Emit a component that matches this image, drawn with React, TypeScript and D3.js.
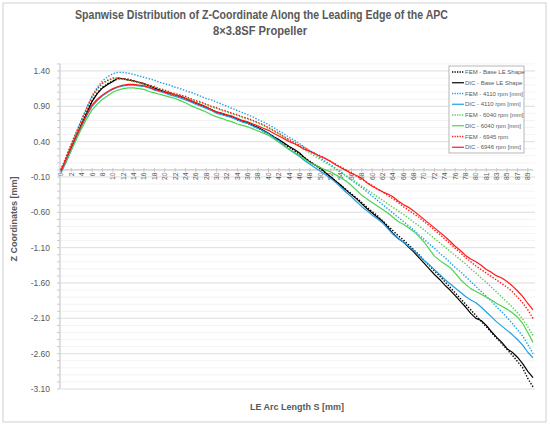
import React from "react";
import * as d3 from "d3";

// ---------- DATA ----------
const arcLength: number[] = [
  0, 1, 2, 3, 4, 5, 6, 7, 8, 9, 10, 11, 12, 13, 14, 15, 16, 17, 18, 19,
  20, 21, 22, 23, 24, 25, 26, 27, 28, 29, 30, 31, 32, 33, 34, 35, 36, 37, 38, 39,
  40, 41, 42, 43, 44, 45, 46, 47, 48, 49, 50, 51, 52, 53, 54, 55, 56, 57, 58, 59,
  60, 61, 62, 63, 64, 65, 66, 67, 68, 69, 70, 71, 72, 73, 74, 75, 76, 77, 78, 79,
  80, 80, 81, 82, 83, 84, 85, 86, 87, 88, 89, 90,
];

const femBase: number[] = [
  0.0, 0.16, 0.33, 0.5, 0.67, 0.83, 0.98, 1.09, 1.17, 1.22,
  1.26, 1.29, 1.29, 1.28, 1.26, 1.24, 1.21, 1.19, 1.16, 1.13,
  1.1, 1.08, 1.05, 1.03, 1.0, 0.97, 0.94, 0.91, 0.88, 0.85,
  0.82, 0.79, 0.77, 0.74, 0.71, 0.68, 0.66, 0.62, 0.59, 0.55,
  0.51, 0.47, 0.42, 0.37, 0.32, 0.27, 0.22, 0.17, 0.12, 0.07,
  0.01, -0.04, -0.1, -0.16, -0.22, -0.28, -0.34, -0.4, -0.46, -0.53,
  -0.59, -0.65, -0.72, -0.79, -0.86, -0.93, -0.99, -1.06, -1.13, -1.2,
  -1.28, -1.35, -1.43, -1.5, -1.58, -1.66, -1.74, -1.82, -1.9, -1.98,
  -2.06, -2.14, -2.22, -2.3, -2.38, -2.46, -2.54, -2.62, -2.71, -2.8,
  -2.95, -3.07,
];

const dicBase: number[] = [
  0.0, 0.14, 0.31, 0.48, 0.65, 0.81, 0.97, 1.08, 1.16, 1.21,
  1.25, 1.3, 1.29, 1.27, 1.26, 1.24, 1.22, 1.19, 1.16, 1.13,
  1.11, 1.09, 1.06, 1.04, 1.01, 0.98, 0.95, 0.92, 0.89, 0.85,
  0.82, 0.8, 0.77, 0.75, 0.72, 0.69, 0.67, 0.63, 0.6, 0.56,
  0.52, 0.47, 0.43, 0.38, 0.33, 0.29, 0.24, 0.17, 0.11, 0.07,
  0.03, -0.04, -0.1, -0.16, -0.22, -0.29, -0.35, -0.41, -0.48, -0.55,
  -0.61, -0.67, -0.73, -0.81, -0.9, -0.97, -1.02, -1.09, -1.16, -1.24,
  -1.32, -1.4, -1.48, -1.55, -1.63, -1.7, -1.78, -1.86, -1.94, -2.03,
  -2.1, -2.13, -2.2, -2.29, -2.37, -2.44, -2.53, -2.58, -2.65, -2.74,
  -2.85, -2.94,
];

const fem4110: number[] = [
  -0.03, 0.17, 0.36, 0.54, 0.72, 0.89, 1.05, 1.17, 1.26, 1.32,
  1.36, 1.38, 1.38, 1.37, 1.35, 1.33, 1.31, 1.29, 1.27, 1.24,
  1.22, 1.2, 1.17, 1.15, 1.12, 1.1, 1.07, 1.04, 1.01, 0.99,
  0.96, 0.93, 0.9, 0.87, 0.84, 0.81, 0.78, 0.75, 0.71, 0.68,
  0.64, 0.6, 0.55, 0.51, 0.46, 0.42, 0.37, 0.32, 0.27, 0.22,
  0.17, 0.12, 0.07, 0.02, -0.03, -0.09, -0.14, -0.2, -0.25, -0.31,
  -0.37, -0.43, -0.49, -0.55, -0.61, -0.67, -0.73, -0.79, -0.85, -0.92,
  -0.98, -1.05, -1.11, -1.18, -1.24, -1.31, -1.38, -1.44, -1.51, -1.58,
  -1.65, -1.72, -1.79, -1.86, -1.94, -2.01, -2.09, -2.17, -2.26, -2.35,
  -2.47, -2.6,
];

const dic4110: number[] = [
  -0.04, 0.11, 0.28, 0.45, 0.62, 0.77, 0.9, 0.98, 1.05, 1.1,
  1.14, 1.17, 1.19, 1.2, 1.2, 1.19, 1.18, 1.16, 1.13, 1.11,
  1.09, 1.06, 1.04, 1.02, 0.99, 0.96, 0.93, 0.9, 0.87, 0.84,
  0.8, 0.78, 0.76, 0.74, 0.71, 0.68, 0.66, 0.62, 0.59, 0.55,
  0.51, 0.46, 0.41, 0.35, 0.29, 0.24, 0.19, 0.13, 0.08, 0.03,
  -0.02, -0.07, -0.12, -0.18, -0.25, -0.32, -0.38, -0.45, -0.52, -0.58,
  -0.64, -0.69, -0.75, -0.83, -0.91, -0.97, -1.02, -1.08, -1.14, -1.21,
  -1.28, -1.34, -1.41, -1.48, -1.55, -1.61, -1.67, -1.73, -1.79, -1.84,
  -1.88, -1.94, -2.01, -2.08, -2.15, -2.21, -2.27, -2.33, -2.4, -2.48,
  -2.58, -2.66,
];

const fem6040: number[] = [
  0.0, 0.18, 0.36, 0.53, 0.7, 0.87, 1.03, 1.14, 1.22, 1.26,
  1.29, 1.29, 1.28, 1.27, 1.25, 1.23, 1.21, 1.19, 1.17, 1.14,
  1.12, 1.09, 1.07, 1.05, 1.03, 1.0, 0.97, 0.95, 0.92, 0.89,
  0.87, 0.84, 0.82, 0.79, 0.77, 0.74, 0.72, 0.69, 0.66, 0.63,
  0.59, 0.55, 0.51, 0.46, 0.42, 0.37, 0.33, 0.28, 0.24, 0.19,
  0.15, 0.1, 0.06, 0.01, -0.04, -0.08, -0.13, -0.18, -0.23, -0.28,
  -0.33, -0.38, -0.43, -0.48, -0.53, -0.58, -0.63, -0.68, -0.74, -0.79,
  -0.85, -0.91, -0.97, -1.03, -1.09, -1.15, -1.21, -1.27, -1.33, -1.4,
  -1.46, -1.53, -1.59, -1.66, -1.73, -1.8, -1.87, -1.94, -2.02, -2.11,
  -2.22, -2.34,
];

const dic6040: number[] = [
  -0.02, 0.13, 0.28, 0.44, 0.59, 0.73, 0.85, 0.93, 1.0, 1.05,
  1.1, 1.13, 1.15, 1.16, 1.16, 1.15, 1.14, 1.11, 1.09, 1.07,
  1.05, 1.03, 1.01, 0.98, 0.95, 0.91, 0.88, 0.85, 0.82, 0.78,
  0.75, 0.73, 0.7, 0.68, 0.65, 0.63, 0.61, 0.58, 0.55, 0.52,
  0.49, 0.44, 0.39, 0.34, 0.29, 0.25, 0.2, 0.15, 0.1, 0.07,
  0.03, 0.0, -0.03, -0.07, -0.11, -0.16, -0.22, -0.29, -0.36, -0.41,
  -0.46, -0.51, -0.56, -0.61, -0.67, -0.73, -0.77, -0.82, -0.87, -0.94,
  -1.02, -1.12, -1.22, -1.28, -1.33, -1.38, -1.46, -1.55, -1.62, -1.68,
  -1.72, -1.76, -1.8, -1.84, -1.89, -1.93, -1.97, -2.02, -2.08, -2.17,
  -2.3, -2.44,
];

const fem6945: number[] = [
  0.0, 0.19, 0.37, 0.54, 0.71, 0.88, 1.04, 1.15, 1.23, 1.27,
  1.3, 1.3, 1.29, 1.28, 1.26, 1.24, 1.22, 1.2, 1.18, 1.15,
  1.13, 1.1, 1.08, 1.06, 1.04, 1.01, 0.98, 0.96, 0.93, 0.9,
  0.88, 0.85, 0.83, 0.8, 0.78, 0.75, 0.73, 0.7, 0.67, 0.64,
  0.6, 0.56, 0.52, 0.47, 0.43, 0.39, 0.35, 0.31, 0.27, 0.23,
  0.2, 0.16, 0.12, 0.08, 0.04, 0.0, -0.04, -0.09, -0.13, -0.18,
  -0.22, -0.27, -0.31, -0.36, -0.41, -0.46, -0.52, -0.57, -0.62, -0.67,
  -0.73, -0.79, -0.85, -0.91, -0.98, -1.04, -1.11, -1.17, -1.24, -1.3,
  -1.36, -1.41, -1.46, -1.51, -1.56, -1.61, -1.66, -1.72, -1.8, -1.88,
  -1.98, -2.1,
];

const dic6946: number[] = [
  -0.02, 0.15, 0.33, 0.49, 0.64, 0.79, 0.92, 1.0, 1.06, 1.11,
  1.15, 1.18, 1.2, 1.21, 1.21, 1.2, 1.19, 1.17, 1.14, 1.12,
  1.1, 1.08, 1.06, 1.04, 1.01, 0.98, 0.95, 0.92, 0.89, 0.85,
  0.82, 0.8, 0.78, 0.76, 0.73, 0.7, 0.68, 0.65, 0.62, 0.59,
  0.56, 0.52, 0.48, 0.44, 0.4, 0.37, 0.33, 0.29, 0.26, 0.23,
  0.19, 0.16, 0.12, 0.07, 0.03, -0.01, -0.05, -0.08, -0.12, -0.18,
  -0.23, -0.27, -0.31, -0.34, -0.38, -0.44, -0.49, -0.53, -0.58, -0.64,
  -0.7, -0.76, -0.82, -0.88, -0.94, -1.01, -1.08, -1.14, -1.21, -1.26,
  -1.3, -1.35, -1.41, -1.45, -1.5, -1.53, -1.58, -1.64, -1.71, -1.79,
  -1.89, -1.98,
];

const seriesNames: string[] = [
  "FEM - Base LE Shape",
  "DIC - Base LE Shape",
  "FEM - 4110 rpm [mm]",
  "DIC - 4110 rpm [mm]",
  "FEM - 6040 rpm [mm]",
  "DIC - 6040 rpm [mm]",
  "FEM - 6945 rpm",
  "DIC - 6946 rpm [mm]",
];
const seriesValues: number[][] = [femBase, dicBase, fem4110, dic4110, fem6040, dic6040, fem6945, dic6946];
const seriesColors: string[] = ["#000000", "#000000", "#1ea0e6", "#1ea0e6", "#4fd24f", "#4fd24f", "#ff1a1a", "#ff1a1a"];
const seriesDotted: boolean[] = [true, false, true, false, true, false, true, false];

const yMin = -3.1;
const yMax = 1.5;
const yMajorStep = 0.5;
const yMinorStep = 0.1;

const titleLines: string[] = [
  "Spanwise Distribution of Z-Coordinate Along the Leading Edge of the APC",
  "8×3.8SF Propeller",
];
const xTitle = "LE Arc Length S [mm]";
const yTitle = "Z Coordinates [mm]";

// ---------- CHART ----------
const W = 550;
const H = 426;
const FONT = "'Liberation Sans', Arial, 'DejaVu Sans', sans-serif";
const TEXT = "#595959";

export default function App() {
  const n = arcLength.length;
  const x = d3.scaleLinear().domain([0, n - 1]).range([61, 533]);
  const y = d3.scaleLinear().domain([yMin, yMax]).range([389, 63.9]);

  const majorTicks = d3.range(0, Math.round((1.4 - yMin) / yMajorStep) + 1).map((k) => yMin + k * yMajorStep);
  const minorTicks = d3.range(0, Math.round((yMax - yMin) / yMinorStep) + 1).map((k) => yMin + k * yMinorStep);

  const line = d3
    .line<number>()
    .x((_, i) => x(i))
    .y((v) => y(v));

  const xLabelIdx = d3.range(0, n, 2);
  const y0 = y(0);

  const legendX = 449;
  const legendY = 66;
  const rowH = 10.75;

  return (
    <svg
      width={W}
      height={H}
      style={{ position: "absolute", left: 0, top: 0, background: "#fff" }}
      fontFamily={FONT}
    >
      <rect x={0} y={0} width={W} height={H} fill="#fff" />
      <rect x={3} y={3} width={543} height={419} fill="none" stroke="#d0d0d0" strokeWidth={1} />

      {/* title */}
      <text x={261.5} y={18.5} textAnchor="middle" fontSize={12.5} fontWeight="bold" fill={TEXT}
        textLength={373} lengthAdjust="spacingAndGlyphs">{titleLines[0]}</text>
      <text x={260} y={35} textAnchor="middle" fontSize={12.5} fontWeight="bold" fill={TEXT}
        textLength={94} lengthAdjust="spacingAndGlyphs">{titleLines[1]}</text>

      {/* minor gridlines */}
      {minorTicks.map((v, i) => (
        <line key={"mg" + i} x1={61} x2={535} y1={y(v)} y2={y(v)} stroke="#f0f0f0" strokeWidth={0.8} />
      ))}
      {/* major gridlines */}
      {majorTicks.map((v, i) => (
        <line key={"Mg" + i} x1={61} x2={535} y1={y(v)} y2={y(v)} stroke="#dcdcdc" strokeWidth={0.8} />
      ))}

      {/* y axis */}
      <line x1={60} x2={60} y1={y(yMax)} y2={y(yMin)} stroke="#bfbfbf" strokeWidth={1} />
      {minorTicks.map((v, i) => (
        <line key={"mt" + i} x1={57} x2={60} y1={y(v)} y2={y(v)} stroke="#bfbfbf" strokeWidth={0.8} />
      ))}
      {majorTicks.map((v, i) => (
        <text key={"yl" + i} x={50} y={y(v)} dy="0.35em" textAnchor="end" fontSize={8.5} fill={TEXT}>
          {v.toFixed(2)}
        </text>
      ))}

      {/* x axis at 0 */}
      <line x1={61} x2={533} y1={y0} y2={y0} stroke="#bfbfbf" strokeWidth={1} />
      {xLabelIdx.map((i) => (
        <line key={"xt" + i} x1={x(i)} x2={x(i)} y1={y0 - 2} y2={y0 + 2} stroke="#bfbfbf" strokeWidth={0.8} />
      ))}
      {xLabelIdx.map((i) => (
        <text
          key={"xl" + i}
          transform={`translate(${x(i)},${y0 + 2.5}) rotate(-90)`}
          textAnchor="end"
          dy="0.35em"
          fontSize={6.8}
          fill={TEXT}
        >
          {arcLength[i]}
        </text>
      ))}

      {/* axis titles */}
      <text transform={`translate(17,219) rotate(-90)`} textAnchor="middle" fontSize={9} fontWeight="bold" fill={TEXT}>
        {yTitle}
      </text>
      <text x={297} y={410} textAnchor="middle" fontSize={9} fontWeight="bold" fill={TEXT}>
        {xTitle}
      </text>

      {/* series */}
      {seriesValues.map((vals, s) => (
        <path
          key={"s" + s}
          d={line(vals) || ""}
          fill="none"
          stroke={seriesColors[s]}
          strokeWidth={seriesDotted[s] ? 1.4 : 1.2}
          strokeDasharray={seriesDotted[s] ? "1.4,1.6" : undefined}
          strokeLinejoin="round"
        />
      ))}

      {/* legend */}
      <rect x={legendX} y={legendY} width={75} height={87} fill="#fff" stroke="#a6a6a6" strokeWidth={0.8} />
      {seriesNames.map((name, s) => {
        const cy = legendY + 6 + s * rowH;
        return (
          <g key={"lg" + s}>
            <line
              x1={legendX + 3}
              x2={legendX + 15}
              y1={cy}
              y2={cy}
              stroke={seriesColors[s]}
              strokeWidth={seriesDotted[s] ? 1.3 : 1.2}
              strokeDasharray={seriesDotted[s] ? "1.3,1.2" : undefined}
            />
            <text x={legendX + 16} y={cy} dy="0.35em" fontSize={6} fill={TEXT}>
              {name}
            </text>
          </g>
        );
      })}
    </svg>
  );
}
